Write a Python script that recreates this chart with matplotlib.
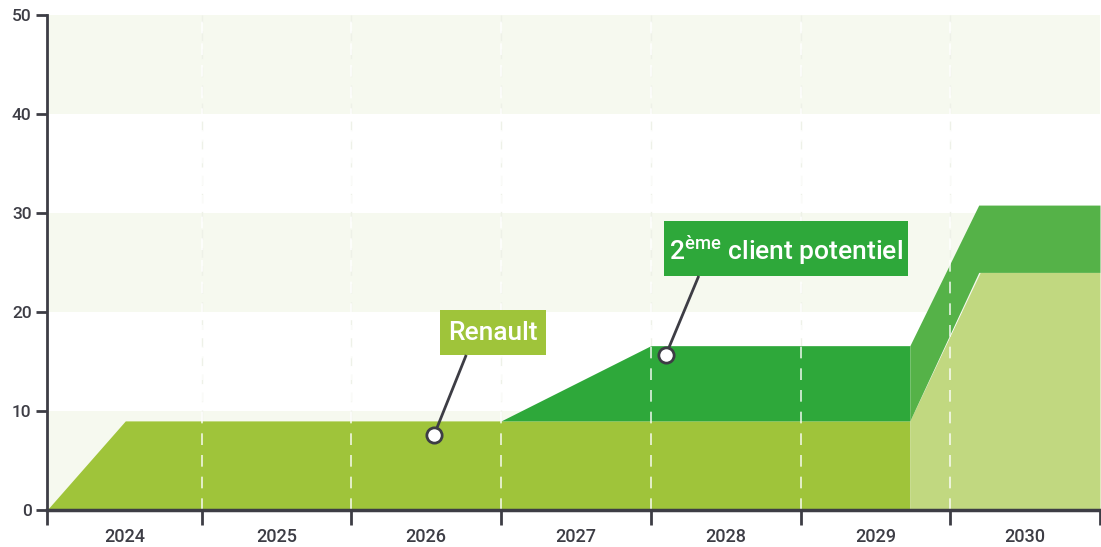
import matplotlib
matplotlib.use("Agg")
import matplotlib.pyplot as plt
from matplotlib.patches import Rectangle

plt.rcParams['font.family'] = ['Roboto', 'DejaVu Sans']
plt.rcParams['mathtext.fontset'] = 'custom'
plt.rcParams['mathtext.rm'] = 'Roboto:medium'

# ---- data ----
years = ["2024", "2025", "2026", "2027", "2028", "2029", "2030"]
boundaries = [2025, 2026, 2027, 2028, 2029, 2030, 2031]
x_start = 2023.967

renault_x = [2023.967, 2024.49, 2029.73]
renault_y = [0, 9.0, 9.0]
renault_proj_x = [2029.73, 2030.2, 2031.0]
renault_proj_y = [9.0, 24.0, 24.0]

client2_x = [2027.0, 2028.0, 2029.73]
client2_top = [9.0, 16.6, 16.6]
client2_proj_x = [2029.73, 2030.19, 2031.0]
client2_proj_top = [16.6, 30.8, 30.8]

y_ticks = [0, 10, 20, 30, 40, 50]

renault_label = "Renault"
client2_label = "2$^{\\mathrm{ème}}$ client potentiel"
renault_point = (2026.553, 7.6)
client2_point = (2028.1, 15.65)

# ---- colors ----
c_renault = "#9fc43a"
c_client2 = "#2ea83a"
c_renault_proj = "#c1d880"
c_client2_proj = "#55b248"
c_band = "#f6f9ef"
c_axis = "#3d3d45"

W, H = 1101, 547
fig = plt.figure(figsize=(W / 100, H / 100), dpi=100)
ax = fig.add_axes([47 / W, (H - 510) / H, (1100 - 47) / W, 495 / H])

# background bands
for lo in [0, 20, 40]:
    ax.axhspan(lo, lo + 10, color=c_band, zorder=0, lw=0)

# areas
ax.fill_between(renault_x, 0, renault_y, color=c_renault, lw=0, zorder=2)
ax.fill_between(client2_x, [renault_y[-1]] * 3, client2_top, color=c_client2, lw=0, zorder=2)
ax.fill_between(renault_proj_x, 0, renault_proj_y, color=c_renault_proj, lw=0, zorder=2)
ax.fill_between(client2_proj_x, renault_proj_y, client2_proj_top, color=c_client2_proj, lw=0, zorder=2)

# vertical dashed lines
for b in boundaries[:-1]:
    ax.axvline(b, color="#ffffff", lw=1.2, ls=(0, (7, 6)), zorder=3, alpha=0.85)
    ax.axvline(b, color="#eef1e8", lw=1.0, ls=(0, (7, 6)), zorder=1)

ax.set_xlim(x_start, 2031.0)
ax.set_ylim(0, 50)

# spines
for s in ["top", "right"]:
    ax.spines[s].set_visible(False)
for s in ["left", "bottom"]:
    ax.spines[s].set_color(c_axis)
    ax.spines[s].set_zorder(5)
ax.spines["left"].set_linewidth(2)
ax.spines["bottom"].set_linewidth(2.5)

ax.set_yticks(y_ticks)
ax.set_yticklabels([str(v) for v in y_ticks], fontsize=12.5, fontweight="medium", color=c_axis)
ax.tick_params(axis="y", length=8, width=2, color=c_axis, pad=3)

ax.set_xticks([x_start] + boundaries)
ax.set_xticklabels([])
ax.tick_params(axis="x", which="major", length=11, width=2, color=c_axis)
mids = [x_start + 0.5 * (2025 - x_start)] + [b + 0.5 for b in boundaries[:-1]]
ax.set_xticks(mids, minor=True)
ax.set_xticklabels(years, minor=True, fontsize=13, fontweight="medium", color=c_axis)
ax.tick_params(axis="x", which="minor", length=0, pad=13)

# annotation boxes
ax.add_patch(Rectangle((2026.593, 15.66), 2027.3 - 2026.593, 20.2 - 15.66,
                       fc=c_renault, ec="none", zorder=6))
ax.text(2026.947, 17.17, renault_label, ha="center", va="baseline", fontsize=19,
        fontweight="medium", color="white", zorder=7)
ax.add_patch(Rectangle((2028.087, 23.64), 2029.72 - 2028.087, 29.19 - 23.64,
                       fc=c_client2, ec="none", zorder=6))
ax.text(2028.903, 25.25, client2_label, ha="center", va="baseline", fontsize=19,
        fontweight="medium", color="white", zorder=7)

# leader lines + markers
ax.plot([renault_point[0], 2026.767], [renault_point[1], 15.66], color=c_axis, lw=2, zorder=6,
        solid_capstyle="butt")
ax.plot([client2_point[0], 2028.32], [client2_point[1], 23.64], color=c_axis, lw=2, zorder=6,
        solid_capstyle="butt")
ax.plot(*renault_point, "o", ms=11, mfc="white", mec=c_axis, mew=2, zorder=8)
ax.plot(*client2_point, "o", ms=11, mfc="white", mec=c_axis, mew=2, zorder=8)

fig.savefig("out.png", dpi=100)
